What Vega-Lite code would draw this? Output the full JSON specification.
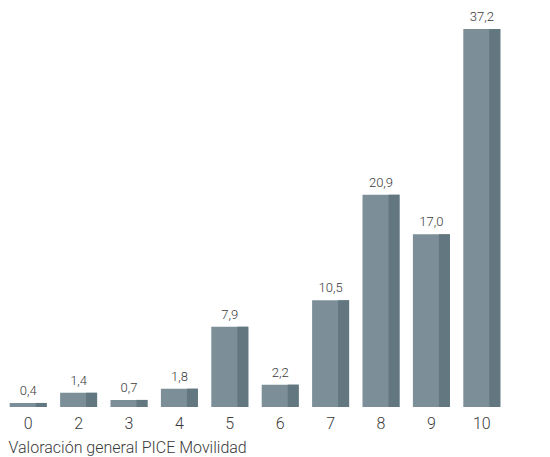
{
  "$schema": "https://vega.github.io/schema/vega-lite/v6.json",
  "width": 504,
  "height": 378,
  "autosize": "none",
  "padding": {"left": 3, "top": 29, "right": 43, "bottom": 50},
  "background": "white",
  "config": {
    "view": {"stroke": null},
    "font": "Roboto",
    "locale": {"number": {"decimal": ",", "thousands": ".", "grouping": [3], "currency": ["", " €"]}}
  },
  "data": {"values": [
    {"nota": "0", "pct": 0.4},
    {"nota": "2", "pct": 1.4},
    {"nota": "3", "pct": 0.7},
    {"nota": "4", "pct": 1.8},
    {"nota": "5", "pct": 7.9},
    {"nota": "6", "pct": 2.2},
    {"nota": "7", "pct": 10.5},
    {"nota": "8", "pct": 20.9},
    {"nota": "9", "pct": 17.0},
    {"nota": "10", "pct": 37.2}
  ]},
  "encoding": {
    "x": {
      "field": "nota", "type": "nominal", "sort": null,
      "scale": {"paddingInner": 0.266, "paddingOuter": 0.133},
      "axis": {
        "title": "Valoración general PICE Movilidad",
        "labelAngle": 0, "domain": false, "ticks": false,
        "labelPadding": 8, "labelFontSize": 16, "labelColor": "#3a3a3a", "labelFontWeight": 300,
        "labelFont": "Roboto",
        "titleFontSize": 16, "titleFontWeight": 300, "titleColor": "#3a3a3a", "titleFont": "Roboto",
        "titleAnchor": "start", "titleAlign": "left", "titleX": 5, "titleY": 45, "titleBaseline": "alphabetic"
      }
    },
    "y": {
      "field": "pct", "type": "quantitative",
      "scale": {"domain": [0, 37.2], "nice": false},
      "axis": null
    }
  },
  "layer": [
    {"mark": {"type": "bar", "color": "#7c8f98"}},
    {"mark": {"type": "bar", "color": "#627780", "width": 11, "xOffset": 13}},
    {"mark": {"type": "text", "baseline": "bottom", "dy": -5, "fontSize": 13, "fontWeight": 300, "color": "#3a3a3a"},
     "encoding": {"text": {"field": "pct", "type": "quantitative", "format": ".1f"}}}
  ]
}
